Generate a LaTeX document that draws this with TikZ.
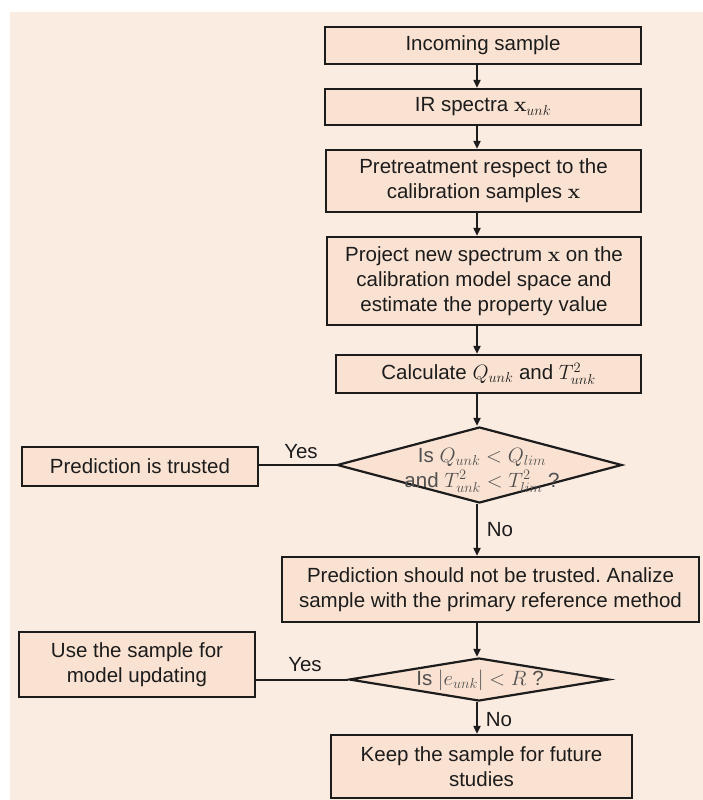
\documentclass[tikz,border=0pt]{standalone}
\usepackage[no-math]{fontspec}
\setmainfont{Liberation Sans}
\usetikzlibrary{shapes.geometric,arrows.meta}
\definecolor{pagebg}{HTML}{FBECE2}
\definecolor{boxfill}{HTML}{FAE2D2}
\definecolor{inkline}{HTML}{1C1C1C}
\definecolor{qtext}{HTML}{505050}
\frenchspacing
\begin{document}
\begin{tikzpicture}[x=1pt,y=-1pt,
  bodyfont/.style={font=\fontsize{20.5}{25}\selectfont},
  stepbox/.style={bodyfont, draw=inkline, line width=2.2pt, fill=boxfill,
    inner sep=0pt, align=center, text=inkline},
  decision/.style={diamond, draw=inkline, line width=2.2pt, fill=boxfill,
    inner sep=0pt},
  qlabel/.style={bodyfont, align=center, text=qtext, inner sep=0pt},
  flow/.style={draw=inkline, line width=1.8pt,
    -{Triangle[length=8pt,width=7pt]}},
  link/.style={draw=inkline, line width=2pt},
  tag/.style={bodyfont, text=inkline, inner sep=0pt}]

% page and tinted panel
\useasboundingbox (0,0) rectangle (703,800);
\fill[white] (0,0) rectangle (703,800);
\fill[pagebg] (10,12) rectangle (703,800);

% main column
\coordinate (axis) at (477,0);
\node[stepbox, minimum width=316pt, minimum height=37pt] (inc) at (483,45.5)
  {Incoming sample};
\node[stepbox, minimum width=316pt, minimum height=36pt] (ir) at (483,107)
  {IR spectra $\mathbf{x}_{unk}$};
\node[stepbox, minimum width=315pt, minimum height=62pt] (pre) at (483.5,181)
  {Pretreatment respect to the\\calibration samples $\mathbf{x}$};
\node[stepbox, minimum width=314pt, minimum height=88pt] (proj) at (484,281)
  {Project new spectrum $\mathbf{x}$ on the\\calibration model space and\\estimate the property value};
\node[stepbox, minimum width=305pt, minimum height=38pt] (calc) at (488.5,374)
  {Calculate $Q_{unk}$ and $T^{2}_{unk}$};

% first decision
\node[decision, minimum width=285pt, minimum height=76pt] (d1) at (479.5,465) {};
\node[qlabel] (d1txt) at (482,470)
  {Is $Q_{unk} < Q_{lim}$\\and $T^{2}_{unk} < T^{2}_{lim}$ ?};
\node[stepbox, minimum width=236pt, minimum height=39pt] (trust) at (140,466.5)
  {Prediction is trusted};

\node[stepbox, minimum width=417pt, minimum height=65pt] (notr) at (490.5,589.5)
  {Prediction should not be trusted. Analize\\sample with the primary reference method};

% second decision
\node[decision, minimum width=260pt, minimum height=43pt] (d2) at (479,679.5) {};
\node[qlabel] (d2txt) at (480,680) {Is $|e_{unk}| < R$ ?};
\node[stepbox, minimum width=236pt, minimum height=65pt] (use) at (137,664.5)
  {Use the sample for\\model updating};
\node[stepbox, minimum width=301pt, minimum height=63pt] (keep) at (481.5,766.5)
  {Keep the sample for future\\studies};

% connectors
\draw[flow] (inc.south -| axis) -- (ir.north -| axis);
\draw[flow] (ir.south -| axis) -- (pre.north -| axis);
\draw[flow] (pre.south -| axis) -- (proj.north -| axis);
\draw[flow] (proj.south -| axis) -- (calc.north -| axis);
\draw[flow] (calc.south -| axis) -- (d1.north -| axis);
\draw[flow] (d1.south -| axis) -- (notr.north -| axis);
\draw[flow] (notr.south -| axis) -- (d2.north -| axis);
\draw[flow] (d2.south -| axis) -- (keep.north -| axis);
\draw[link] (d1.west) -- (d1.west -| trust.east);
\draw[link] (d2.west) -- (d2.west -| use.east);

% branch labels
\node[tag] (yes1) at (301,452) {Yes};
\node[tag] (no1) at (500,530) {No};
\node[tag] (yes2) at (305,665) {Yes};
\node[tag] (no2) at (499,720) {No};
\end{tikzpicture}
\end{document}
